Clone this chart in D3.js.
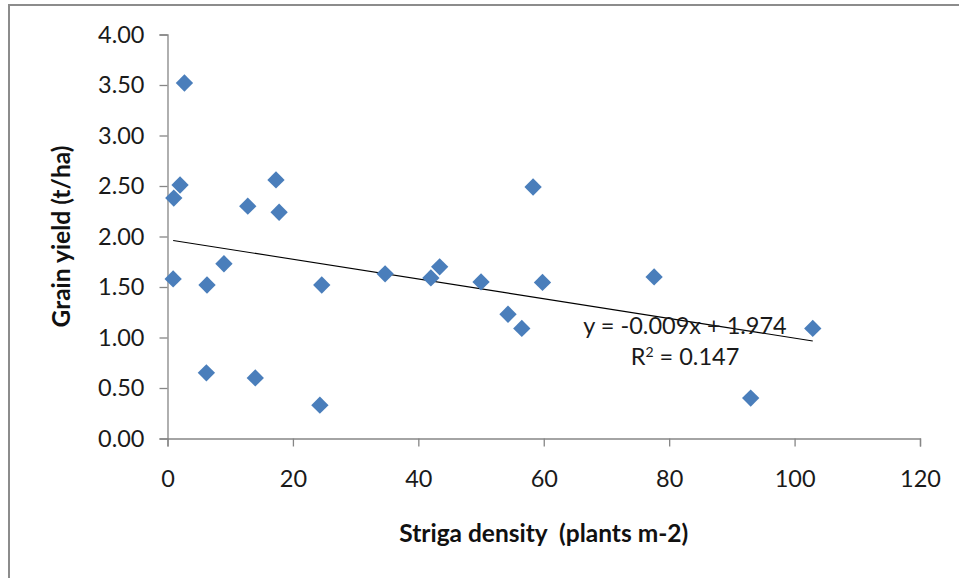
<!DOCTYPE html>
<html>
<head>
<meta charset="utf-8">
<script src="https://cdn.jsdelivr.net/npm/d3@7"></script>
<style>
  html, body { margin: 0; padding: 0; background: #ffffff; }
  svg { display: block; }
  text { font-family: Lato, "Open Sans", "Liberation Sans", sans-serif; }
</style>
</head>
<body>
<script>
// ---- Data ----
const strigaDensity = [2.7, 2.0, 1.0, 12.8, 17.3, 17.8, 0.9, 6.3, 9.0, 24.6, 34.7, 42.0,
                       43.4, 50.0, 58.3, 59.8, 77.6, 54.3, 56.5, 102.9, 93.0, 6.2, 14.0, 24.3];
const grainYield    = [3.52, 2.51, 2.38, 2.30, 2.56, 2.24, 1.58, 1.52, 1.73, 1.52, 1.63, 1.59,
                       1.70, 1.55, 2.49, 1.545, 1.60, 1.23, 1.09, 1.09, 0.40, 0.65, 0.60, 0.33];
const xTicks = [0, 20, 40, 60, 80, 100, 120];
const yTicks = [0, 0.5, 1.0, 1.5, 2.0, 2.5, 3.0, 3.5, 4.0];
const equationLabel = "y = -0.009x + 1.974";
const r2Value = "0.147";
const xTitle = "Striga density  (plants m-2)";
const yTitle = "Grain yield (t/ha)";

const W = 959, H = 578;
const svg = d3.select("body").append("svg").attr("width", W).attr("height", H);

// outer frame (extends past the window on right/bottom like the reference)
svg.append("rect")
  .attr("x", 9).attr("y", 5).attr("width", W + 20).attr("height", H + 20)
  .attr("fill", "none").attr("stroke", "#8c8c8c").attr("stroke-width", 2);

const x = d3.scaleLinear().domain([0, 120]).range([167.5, 920]);
const y = d3.scaleLinear().domain([0, 4]).range([438.5, 34.5]);

const axisColor = "#868686";
const labelColor = "#1a1a1a";
const fontSize = 23.5;

// Y axis
const gy = svg.append("g").attr("transform", `translate(${x(0)},0)`)
  .call(d3.axisLeft(y).tickValues(yTicks).tickFormat(d3.format(".2f")).tickSizeOuter(0).tickSize(8).tickPadding(15));
// X axis
const gx = svg.append("g").attr("transform", `translate(0,${y(0)})`)
  .call(d3.axisBottom(x).tickValues(xTicks).tickFormat(d3.format("d")).tickSizeOuter(0).tickSize(8).tickPadding(24));

[gx, gy].forEach(g => {
  g.select(".domain").attr("stroke", axisColor).attr("stroke-width", 1.3);
  g.selectAll(".tick line").attr("stroke", axisColor).attr("stroke-width", 1.3);
  g.selectAll(".tick text").attr("fill", labelColor)
    .style("font-size", fontSize + "px").style("font-family", "Lato, 'Open Sans', sans-serif");
});

// Trend line: least squares from the data, drawn over the data's x range
const n = strigaDensity.length;
const mx = d3.mean(strigaDensity), my = d3.mean(grainYield);
let sxy = 0, sxx = 0;
for (let i = 0; i < n; i++) {
  sxy += (strigaDensity[i] - mx) * (grainYield[i] - my);
  sxx += (strigaDensity[i] - mx) ** 2;
}
const slope = sxy / sxx, intercept = my - slope * mx;
const xr = d3.extent(strigaDensity);
svg.append("line")
  .attr("x1", x(xr[0])).attr("y1", y(intercept + slope * xr[0]))
  .attr("x2", x(xr[1])).attr("y2", y(intercept + slope * xr[1]))
  .attr("stroke", "#000").attr("stroke-width", 1.1);

// Points (diamonds)
const diamond = d3.symbol().type(d3.symbolSquare).size(150);
svg.append("g").selectAll("path")
  .data(d3.range(n))
  .join("path")
  .attr("d", diamond)
  .attr("transform", i => `translate(${x(strigaDensity[i])},${y(grainYield[i])}) rotate(45)`)
  .attr("fill", "#4a7ebb");

// Equation and R²
const eqX = 685;
svg.append("text").attr("x", eqX).attr("y", 334).attr("text-anchor", "middle")
  .attr("fill", labelColor).style("font-size", fontSize + "px").text(equationLabel);
const r2 = svg.append("text").attr("x", eqX).attr("y", 365).attr("text-anchor", "middle")
  .attr("fill", labelColor).style("font-size", fontSize + "px");
r2.append("tspan").text("R");
r2.append("tspan").attr("dy", -8).style("font-size", "14px").text("2");
r2.append("tspan").attr("dy", 8).text(" = " + r2Value);

// Axis titles
svg.append("text").attr("x", (x(0) + x(120)) / 2).attr("y", 542).attr("text-anchor", "middle")
  .attr("fill", "#111").style("font-size", "24.5px").style("font-weight", "bold")
  .style("white-space", "pre").text(xTitle);
svg.append("text")
  .attr("transform", `translate(70,${(y(0) + y(4)) / 2}) rotate(-90)`)
  .attr("text-anchor", "middle")
  .attr("fill", "#111").style("font-size", "24.5px").style("font-weight", "bold").text(yTitle);
</script>
</body>
</html>
